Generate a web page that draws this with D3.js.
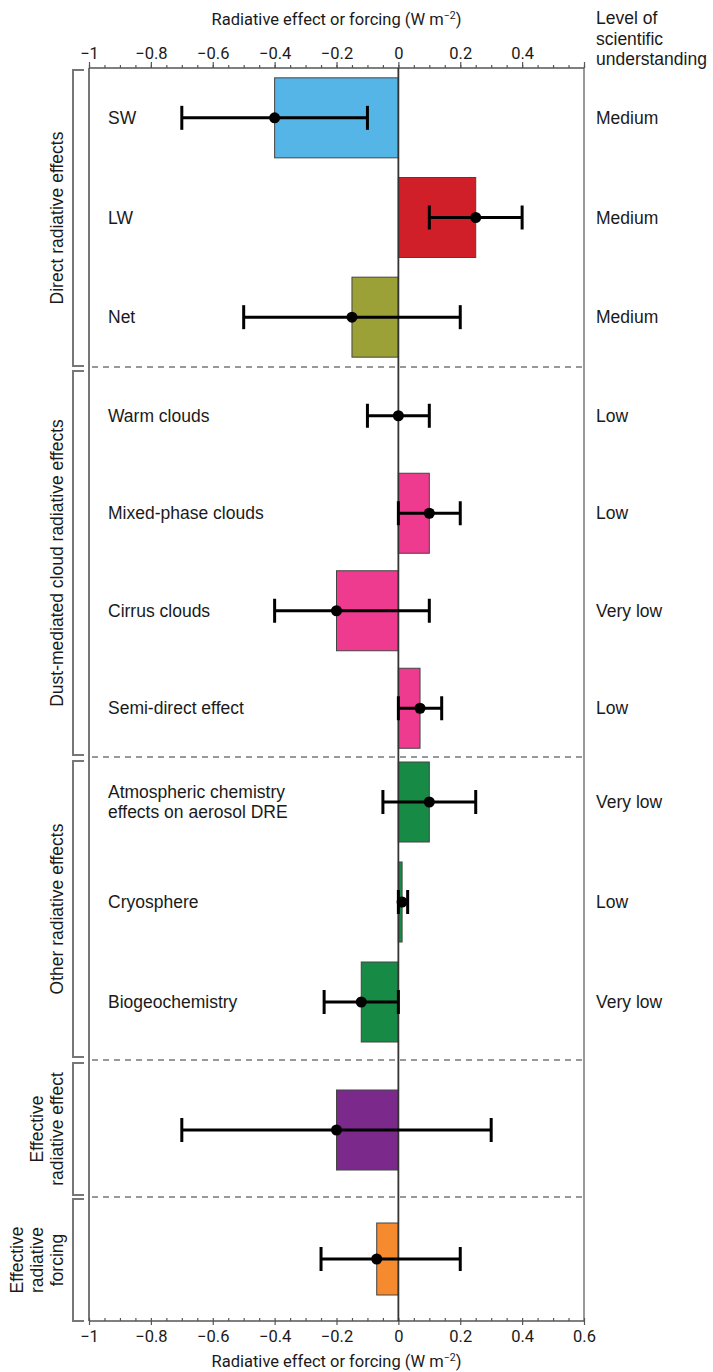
<!DOCTYPE html>
<html><head><meta charset="utf-8">
<script src="https://cdn.jsdelivr.net/npm/d3@7"></script>
<style>
html,body{margin:0;padding:0;background:#fff;}
text{font-family:"Liberation Sans",Arial,sans-serif;fill:#1a1a1a;}
</style></head>
<body>
<svg id="c" width="713" height="1372"></svg>
<script>
// ---- data ----
const categories = ["SW","LW","Net","Warm clouds","Mixed-phase clouds","Cirrus clouds","Semi-direct effect",
  "Atmospheric chemistry\neffects on aerosol DRE","Cryosphere","Biogeochemistry","",""];
const groupOf = [0,0,0,1,1,1,1,2,2,2,3,4];
const groupNames = ["Direct radiative effects","Dust-mediated cloud radiative effects","Other radiative effects",
  "Effective\nradiative effect","Effective\nradiative\nforcing"];
const values = [-0.40, 0.25, -0.15, 0.00, 0.10, -0.20, 0.07, 0.10, 0.012, -0.12, -0.20, -0.07];
const lower  = [-0.70, 0.10, -0.50, -0.10, 0.00, -0.40, 0.00, -0.05, 0.00, -0.24, -0.70, -0.25];
const upper  = [-0.10, 0.40, 0.20, 0.10, 0.20, 0.10, 0.14, 0.25, 0.03, 0.00, 0.30, 0.20];
const understanding = ["Medium","Medium","Medium","Low","Low","Very low","Low","Very low","Low","Very low","",""];
const colors = ["#56b5e7","#d01f29","#9ba136","#ee3a8f","#ee3a8f","#ee3a8f","#ee3a8f","#178a45","#178a45","#178a45","#7b2a8c","#f58a2e"];
const xTicks = [-1,-0.8,-0.6,-0.4,-0.2,0,0.2,0.4,0.6];
const axisTitle = "Radiative effect or forcing (W m";
const lsuTitle = ["Level of","scientific","understanding"];

// ---- layout ----
const svg = d3.select("#c");
const x = d3.scaleLinear().domain([-1,0.6]).range([89,584]);
const yTop = 68, yBot = 1321;
const groupRanges = [[68,367],[367,757],[752,1052],[1060,1200],[1197,1321]];
const groupBrackets = [[70,366],[371,755],[761,1057],[1063,1195],[1199,1321]];
const dashes = [367,757,1060,1197];
const barH = [80,80,80,80,72];
const FS = "17.5px";

const rowsPerGroup = groupNames.map((g,gi)=>categories.map((c,i)=>i).filter(i=>groupOf[i]===gi));
const yCenter = [];
rowsPerGroup.forEach((rows,gi)=>{
  const b = d3.scaleBand().domain(rows).range(groupRanges[gi]);
  rows.forEach(i=>{ yCenter[i] = b(i)+b.bandwidth()/2; });
});

const fmt = v => (v===0?"0":(v<0?"\u2212":"")+String(Math.abs(v)));

// frame
svg.append("line").attr("x1",x(-1)).attr("x2",x(-1)).attr("y1",yTop).attr("y2",yBot).attr("stroke","#777").attr("stroke-width",2);
svg.append("line").attr("x1",x(0.6)).attr("x2",x(0.6)).attr("y1",yTop).attr("y2",yBot).attr("stroke","#777").attr("stroke-width",1.5);

// axes
const minor = d3.range(-1,0.6001,0.05).map(v=>+v.toFixed(2));
const axTop = d3.axisTop(x).tickValues(minor).tickSize(3).tickFormat("");
const gTop = svg.append("g").attr("transform",`translate(0,${yTop})`).call(axTop);
const axBot = d3.axisBottom(x).tickValues(minor).tickSize(-3).tickFormat("");
const gBot = svg.append("g").attr("transform",`translate(0,${yBot})`).call(axBot);
[gTop,gBot].forEach(g=>{
  g.select(".domain").attr("stroke","#555").attr("stroke-width",1.5).attr("d",`M${x(-1)},0H${x(0.6)}`);
  g.selectAll(".tick line").attr("stroke","#555").attr("stroke-width",1.2);
});
const majTop = d3.axisTop(x).tickValues(xTicks).tickSize(6).tickFormat(fmt).tickPadding(3);
const gTop2 = svg.append("g").attr("transform",`translate(0,${yTop})`).call(majTop);
const majBot = d3.axisBottom(x).tickValues(xTicks).tickSize(4).tickFormat(fmt).tickPadding(5);
const gBot2 = svg.append("g").attr("transform",`translate(0,${yBot})`).call(majBot);
[gTop2,gBot2].forEach(g=>{
  g.select(".domain").remove();
  g.selectAll(".tick line").attr("stroke","#555").attr("stroke-width",1.2);
  g.selectAll(".tick text").style("font-family","Roboto, 'Liberation Sans', sans-serif").style("font-size","16.5px").attr("fill","#1a1a1a");
});
gTop2.selectAll(".tick").filter(d=>d===0.6).select("text").remove();

// axis titles
function axisTitleText(yb){
  const t = svg.append("text").attr("x",(x(-1)+x(0.6))/2).attr("y",yb).attr("text-anchor","middle")
    .style("font-family","Roboto, 'Liberation Sans', sans-serif").style("font-size","16.5px");
  t.append("tspan").text(axisTitle);
  t.append("tspan").text("\u22122").attr("dy",-6).style("font-size","10.5px");
  t.append("tspan").text(")").attr("dy",6);
}
axisTitleText(25);
axisTitleText(1367);

// LSU header
svg.append("g").selectAll("text").data(lsuTitle).join("text")
  .attr("x",596).attr("y",(d,i)=>24+i*20.5).text(d=>d)
  .style("font-size","17.5px");

// dashed separators
svg.append("g").selectAll("line").data(dashes).join("line")
  .attr("x1",x(-1)+3).attr("x2",x(0.6)).attr("y1",d=>d).attr("y2",d=>d)
  .attr("stroke","#333").attr("stroke-width",1).attr("stroke-dasharray","6,5");

// group brackets
const br = svg.append("g");
groupBrackets.forEach(([a,b])=>{
  br.append("path").attr("d",`M84,${a}H73V${b}H84`).attr("fill","none").attr("stroke","#777").attr("stroke-width",2);
});
// group labels
groupNames.forEach((name,gi)=>{
  const lines = name.split("\n");
  const cy = (groupBrackets[gi][0]+groupBrackets[gi][1])/2;
  const n = lines.length;
  const t = svg.append("text").attr("transform",`translate(0,${cy}) rotate(-90)`).attr("text-anchor","middle")
    .style("font-size",FS);
  lines.forEach((l,li)=>{
    t.append("tspan").attr("x",0).attr("y",63-(n-1-li)*20).text(l);
  });
});

// bars
svg.append("g").selectAll("rect").data(values.map((v,i)=>i).filter(i=>values[i]!==0)).join("rect")
  .attr("x",i=>Math.min(x(0),x(values[i])))
  .attr("width",i=>Math.abs(x(values[i])-x(0)))
  .attr("y",i=>yCenter[i]-barH[groupOf[i]]/2)
  .attr("height",i=>barH[groupOf[i]])
  .attr("fill",i=>colors[i]).attr("stroke","#444").attr("stroke-width",1);

// zero line
svg.append("line").attr("x1",x(0)).attr("x2",x(0)).attr("y1",yTop).attr("y2",yBot).attr("stroke","#333").attr("stroke-width",1.8);

// error bars
const eb = svg.append("g").attr("stroke","#000").attr("stroke-width",3).attr("fill","none");
values.forEach((v,i)=>{
  const y = yCenter[i];
  eb.append("line").attr("x1",x(lower[i])).attr("x2",x(upper[i])).attr("y1",y).attr("y2",y);
  [lower[i],upper[i]].forEach(e=>{
    eb.append("line").attr("x1",x(e)).attr("x2",x(e)).attr("y1",y-12).attr("y2",y+12);
  });
});
svg.append("g").selectAll("circle").data(values).join("circle")
  .attr("cx",d=>x(d)).attr("cy",(d,i)=>yCenter[i]).attr("r",5.5).attr("fill","#000");

// row labels
categories.forEach((c,i)=>{
  if(!c) return;
  const lines = c.split("\n");
  const t = svg.append("text").attr("x",108).style("font-size",FS);
  const y0 = yCenter[i] + 6 - (lines.length-1)*10.5;
  lines.forEach((l,li)=>t.append("tspan").attr("x",108).attr("y",y0+li*20).text(l));
});
// understanding labels
understanding.forEach((u,i)=>{
  if(!u) return;
  svg.append("text").attr("x",596).attr("y",yCenter[i]+6).text(u)
    .style("font-size",FS);
});
</script>
</body></html>
